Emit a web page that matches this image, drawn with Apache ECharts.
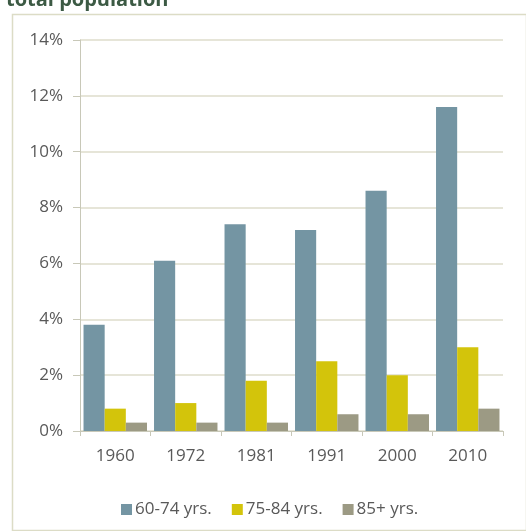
<!DOCTYPE html>
<html>
<head>
<meta charset="utf-8">
<script src="https://cdn.jsdelivr.net/npm/echarts@6/dist/echarts.min.js"></script>
<style>
  html, body { margin: 0; padding: 0; background: #fff; }
  #chart { width: 526px; height: 531px; }
</style>
</head>
<body>
<div id="chart"></div>
<script>
// Share of total population by age group, census years
const years = ['1960', '1972', '1981', '1991', '2000', '2010'];
const age60to74 = [3.8, 6.1, 7.4, 7.2, 8.6, 11.6];
const age75to84 = [0.8, 1.0, 1.8, 2.5, 2.0, 3.0];
const age85plus = [0.3, 0.3, 0.3, 0.6, 0.6, 0.8];
const seriesNames = ['60-74 yrs.', '75-84 yrs.', '85+ yrs.'];
const yTicks = [0, 2, 4, 6, 8, 10, 12, 14];

const colors = ['#7495a3', '#d3c40b', '#9c9a84'];
const textColor = '#595959';
const font = '"Open Sans", "Noto Sans", sans-serif';
const labelSize = 17;

const chart = echarts.init(document.getElementById('chart'), null, { renderer: 'canvas' });

const makeBar = (name, data, color) => ({
  name,
  type: 'bar',
  data,
  barGap: '0%',
  barCategoryGap: '10%',
  itemStyle: { color },
  emphasis: { disabled: true }
});

chart.setOption({
  animation: false,
  color: colors,
  textStyle: { fontFamily: font },
  graphic: [
    {
      type: 'rect',
      left: 10,
      top: 12,
      shape: { width: 514, height: 516 },
      style: { fill: 'none', stroke: '#dcdcc6', lineWidth: 1.5 },
      silent: true
    },
    {
      type: 'text',
      left: 6,
      top: -10,
      style: {
        text: 'total population',
        font: 'bold 20px "Open Sans", "Noto Sans", sans-serif',
        fill: '#3c5a44'
      },
      silent: true
    }
  ],
  grid: { left: 80, right: 23, top: 40, bottom: 100, containLabel: false },
  legend: {
    data: seriesNames,
    top: 496,
    left: 116,
    itemWidth: 11,
    itemHeight: 11,
    itemGap: 20,
    icon: 'rect',
    textStyle: { color: textColor, fontSize: labelSize, fontFamily: font, padding: [0, 0, 0, -2] }
  },
  xAxis: {
    type: 'category',
    data: years,
    axisLine: { lineStyle: { color: '#c8c8b8', width: 1 } },
    axisTick: { show: true, length: 5, lineStyle: { color: '#c8c8b8' } },
    axisLabel: { color: textColor, fontSize: labelSize, margin: 17, fontFamily: font }
  },
  yAxis: {
    type: 'value',
    min: yTicks[0],
    max: yTicks[yTicks.length - 1],
    interval: 2,
    axisLine: { show: true, lineStyle: { color: '#c8c8b8', width: 1 } },
    axisTick: { show: true, length: 7, lineStyle: { color: '#c8c8b8' } },
    axisLabel: {
      color: textColor,
      fontSize: labelSize,
      margin: 17,
      fontFamily: font,
      formatter: v => v + '%'
    },
    splitLine: { lineStyle: { color: '#dedccb', width: 1.5 } }
  },
  series: [
    makeBar(seriesNames[0], age60to74, colors[0]),
    makeBar(seriesNames[1], age75to84, colors[1]),
    makeBar(seriesNames[2], age85plus, colors[2])
  ]
});
</script>
</body>
</html>
